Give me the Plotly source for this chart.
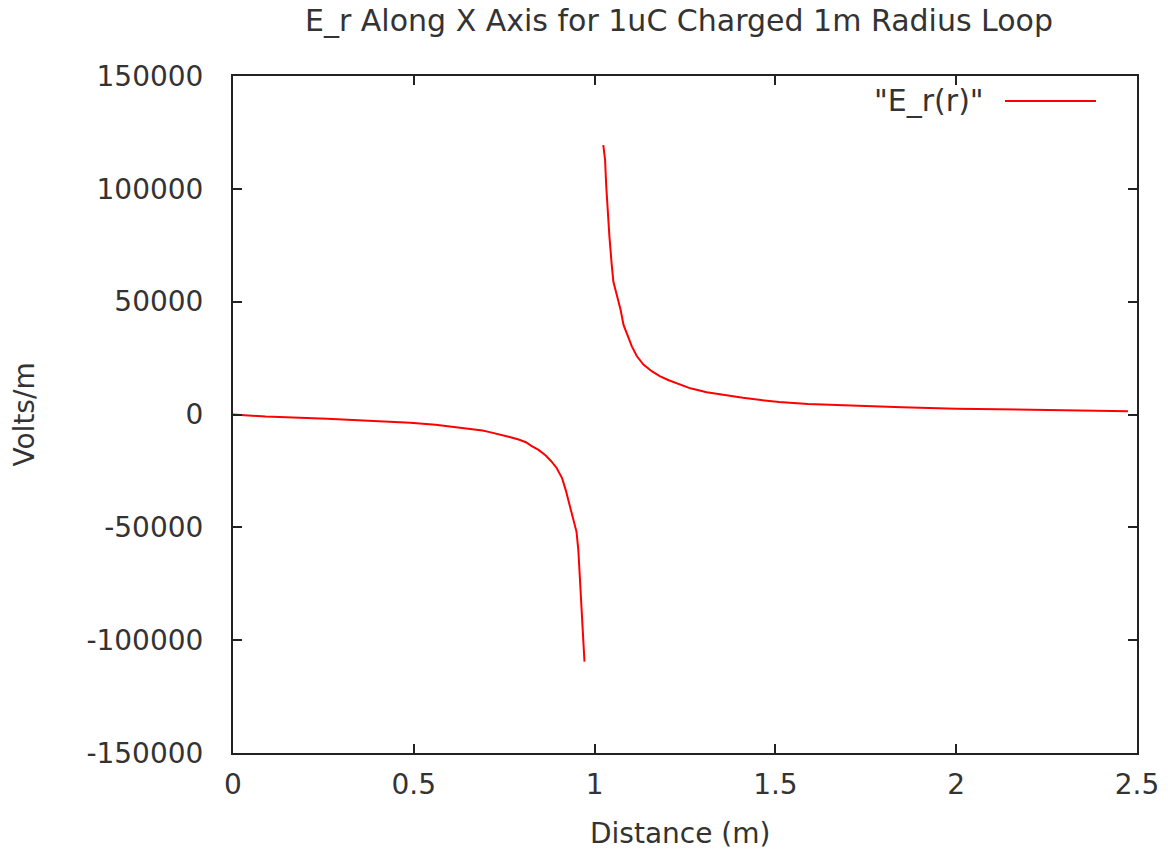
import plotly.graph_objects as go

# Left branch (inside the loop, r < 1 m)
x_in = [0, 0.09, 0.26, 0.38, 0.49, 0.56, 0.61, 0.66, 0.69, 0.71, 0.74, 0.765,
        0.79, 0.81, 0.825, 0.845, 0.865, 0.88, 0.895, 0.91, 0.92, 0.93, 0.94,
        0.95, 0.955, 0.96, 0.965, 0.97, 0.972]
e_in = [0, -900, -1900, -2800, -3700, -4500, -5400, -6300, -7100, -7800, -8900,
        -10000, -11100, -12300, -13900, -15700, -18200, -20700, -23700, -28200,
        -33400, -39400, -46400, -52000, -60000, -73000, -88000, -103000, -109500]

# Right branch (outside the loop, r > 1 m)
x_out = [1.024, 1.029, 1.032, 1.036, 1.041, 1.047, 1.052, 1.06, 1.067, 1.072,
         1.08, 1.09, 1.103, 1.117, 1.135, 1.158, 1.18, 1.205, 1.23, 1.265, 1.31,
         1.365, 1.41, 1.46, 1.51, 1.59, 1.65, 1.75, 1.85, 2.0, 2.15, 2.3, 2.475]
e_out = [119400, 112800, 101700, 90600, 78800, 67000, 58800, 53800, 50000, 46300,
         39700, 35200, 30200, 25800, 22100, 19200, 17000, 15200, 13600, 11600,
         9900, 8400, 7400, 6400, 5500, 4700, 4300, 3700, 3200, 2600, 2200, 1800, 1400]

x_ticks = [0, 0.5, 1, 1.5, 2, 2.5]
x_tick_labels = ["0", "0.5", "1", "1.5", "2", "2.5"]
y_ticks = [-150000, -100000, -50000, 0, 50000, 100000, 150000]
y_tick_labels = ["-150000", "-100000", "-50000", "0", "50000", "100000", "150000"]

title_text = "E_r Along X Axis for 1uC Charged 1m Radius Loop"
legend_text = '"E_r(r)"'

FONT = "DejaVu Sans"
TXT = "#333333"

fig = go.Figure()
fig.add_trace(go.Scatter(
    x=x_in + [None] + x_out,
    y=e_in + [None] + e_out,
    mode="lines",
    line=dict(color="#ff0000", width=2),
    connectgaps=False,
    showlegend=False,
    name=legend_text,
))

axis_common = dict(
    showgrid=False, zeroline=False,
    showline=True, linecolor="#222222", linewidth=2, mirror="allticks",
    ticks="inside", ticklen=9, tickwidth=2, tickcolor="#222222",
    tickfont=dict(family=FONT, size=28, color=TXT),
)

PL, PR, PT, PB = 233, 1137, 76, 753
PW, PH = PR - PL, PB - PT

fig.update_layout(
    width=1173, height=860,
    margin=dict(l=PL, r=1173 - PR, t=PT, b=860 - PB),
    paper_bgcolor="white", plot_bgcolor="white",
    xaxis=dict(range=[0, 2.5], tickvals=x_ticks, ticktext=x_tick_labels,
               ticklabelstandoff=5, **axis_common),
    yaxis=dict(range=[-150000, 150000], tickvals=y_ticks, ticktext=y_tick_labels,
               ticklabelstandoff=22, **axis_common),
    annotations=[
        dict(text=title_text, x=(679 - PL) / PW, xref="paper", xanchor="center",
             y=1, yref="paper", yanchor="middle", yshift=PT - 20,
             showarrow=False, font=dict(family=FONT, size=30, color=TXT)),
        dict(text="Distance (m)", x=(680 - PL) / PW, xref="paper", xanchor="center",
             y=0, yref="paper", yanchor="middle", yshift=-(833 - PB),
             showarrow=False, font=dict(family=FONT, size=28, color=TXT)),
        dict(text="Volts/m", x=0, xref="paper", xanchor="center", xshift=-(PL - 24),
             y=0.5, yref="paper", yanchor="middle", textangle=-90, showarrow=False,
             font=dict(family=FONT, size=28, color=TXT)),
        dict(text=legend_text, x=(986 - PL) / PW, xref="paper", xanchor="right",
             y=(PB - 100) / PH, yref="paper", yanchor="middle", showarrow=False,
             font=dict(family=FONT, size=30, color=TXT)),
    ],
    shapes=[
        dict(type="line", xref="paper", yref="paper",
             x0=(1005 - PL) / PW, x1=(1096 - PL) / PW,
             y0=(PB - 101) / PH, y1=(PB - 101) / PH,
             line=dict(color="#ff0000", width=2)),
    ],
)

fig.write_html("out.html")
